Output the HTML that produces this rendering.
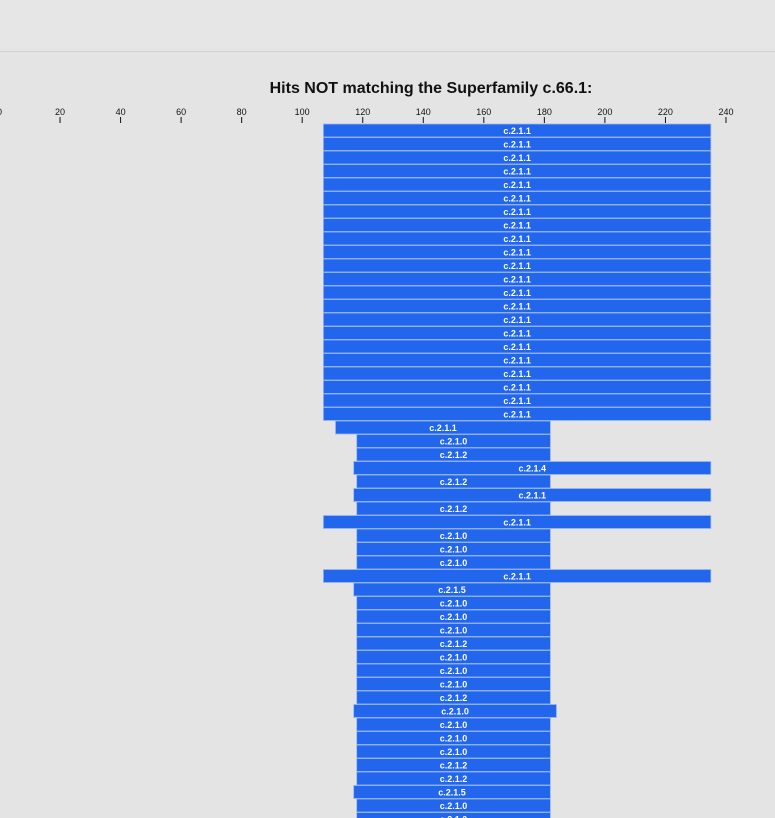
<!DOCTYPE html>
<html><head><meta charset="utf-8"><style>
body{margin:0;background:#e4e4e4;width:775px;height:818px;overflow:hidden;font-family:"Liberation Sans",sans-serif}
</style></head><body>
<div style="position:absolute;left:0;top:0;width:775px;height:51px;border-bottom:1px solid #d2d2d2;background:#e6e6e6"></div>
<svg id="chart" width="775" height="818" style="position:absolute;left:0;top:0">
<text x="431" y="93" text-anchor="middle" font-size="16" font-weight="bold" fill="#111">Hits NOT matching the Superfamily c.66.1:</text>
</svg>
<script>
const ticks=[0,20,40,60,80,100,120,140,160,180,200,220,240];
const labels=[
"c.2.1.1","c.2.1.1","c.2.1.1","c.2.1.1","c.2.1.1","c.2.1.1","c.2.1.1","c.2.1.1","c.2.1.1","c.2.1.1","c.2.1.1",
"c.2.1.1","c.2.1.1","c.2.1.1","c.2.1.1","c.2.1.1","c.2.1.1","c.2.1.1","c.2.1.1","c.2.1.1","c.2.1.1","c.2.1.1",
"c.2.1.1","c.2.1.0","c.2.1.2","c.2.1.4","c.2.1.2","c.2.1.1","c.2.1.2","c.2.1.1","c.2.1.0","c.2.1.0","c.2.1.0",
"c.2.1.1","c.2.1.5","c.2.1.0","c.2.1.0","c.2.1.0","c.2.1.2","c.2.1.0","c.2.1.0","c.2.1.0","c.2.1.2","c.2.1.0",
"c.2.1.0","c.2.1.0","c.2.1.0","c.2.1.2","c.2.1.2","c.2.1.5","c.2.1.0","c.2.1.0"];
const starts=[107,107,107,107,107,107,107,107,107,107,107,107,107,107,107,107,107,107,107,107,107,107,
111,118,118,117,118,117,118,107,118,118,118,107,117,118,118,118,118,118,118,118,118,117,118,118,118,118,118,117,118,118];
const ends=[235,235,235,235,235,235,235,235,235,235,235,235,235,235,235,235,235,235,235,235,235,235,
182,182,182,235,182,235,182,235,182,182,182,235,182,182,182,182,182,182,182,182,182,184,182,182,182,182,182,182,182,182];
const NS="http://www.w3.org/2000/svg";
const svg=document.getElementById('chart');
const xs=v=>-0.5+v*3.027;
const ys=i=>124+i*13.5;
ticks.forEach(t=>{
  const tx=document.createElementNS(NS,'text');
  
  
  tx.setAttribute('x',xs(t));tx.setAttribute('y',115);tx.setAttribute('text-anchor','middle');
  tx.setAttribute('font-size','9');tx.setAttribute('fill','#111');tx.textContent=t;svg.appendChild(tx);
  const ln=document.createElementNS(NS,'line');
  
  
  ln.setAttribute('x1',xs(t));ln.setAttribute('x2',xs(t));ln.setAttribute('y1',117);ln.setAttribute('y2',123);
  ln.setAttribute('stroke','#111');svg.appendChild(ln);
});
labels.forEach((l,i)=>{
  const r=document.createElementNS(NS,'rect');
  
  
  r.setAttribute('x',xs(starts[i]));r.setAttribute('y',ys(i));
  r.setAttribute('width',xs(ends[i])-xs(starts[i]));r.setAttribute('height',13);
  r.setAttribute('fill','#2266ee');r.setAttribute('stroke','#9ab8ee');r.setAttribute('stroke-width','0.8');
  svg.appendChild(r);
  const t=document.createElementNS(NS,'text');
  
  
  t.setAttribute('x',(xs(starts[i])+xs(ends[i]))/2);t.setAttribute('y',ys(i)+10);
  t.setAttribute('text-anchor','middle');t.setAttribute('font-size','9');t.setAttribute('font-weight','bold');
  t.setAttribute('fill','#fff');t.textContent=l;svg.appendChild(t);
});
</script>
</body></html>
